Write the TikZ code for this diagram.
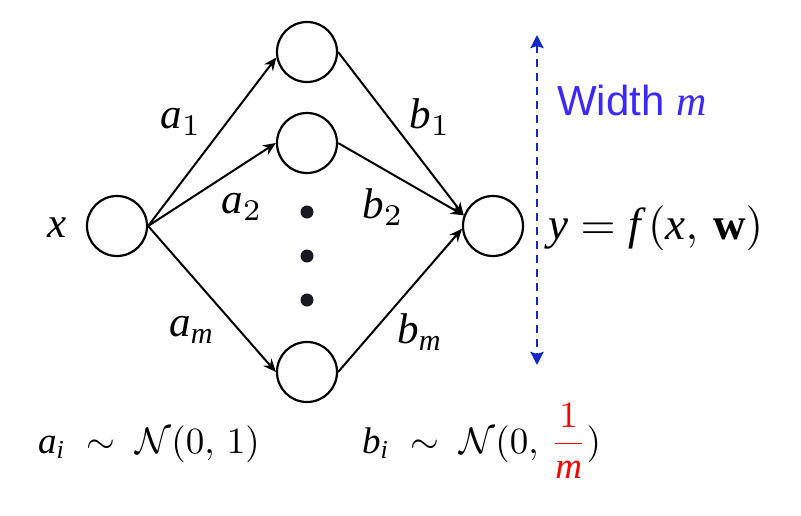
\documentclass[tikz,border=0pt]{standalone}
\usepackage{graphicx}
\usepackage{fontspec}
\setmainfont{Liberation Serif}
\newfontfamily\sansf{Liberation Sans}
\usetikzlibrary{arrows.meta}
\definecolor{widthblue}{RGB}{60,40,250}
\definecolor{dashblue}{RGB}{20,40,200}
\definecolor{dotc}{RGB}{25,25,35}
\newcommand\mathbigx[1]{\scalebox{4.3}{$#1$}}
\newcommand\mathformx[1]{\scalebox{4.5}{$#1$}}
\newcommand\mathdistx[1]{\scalebox{3.7}{$#1$}}
\begin{document}
\begin{tikzpicture}[x=1pt,y=-1pt,
  neuron/.style={circle,draw,line width=2.2pt,minimum size=60pt,inner sep=0pt},
  conn/.style={line width=2pt,-{Stealth[length=13pt,width=11pt]}},
  lbl/.style={font=\fontsize{10}{12}\selectfont,inner sep=0pt},
  dist/.style={font=\fontsize{10}{12}\selectfont,inner sep=0pt},
  bigdot/.style={circle,fill=dotc,minimum size=13pt,inner sep=0pt},
  widthline/.style={dashblue,line width=2.6pt,dash pattern=on 8pt off 6pt,
    {Stealth[length=13pt,width=13pt,inset=2pt]}-{Stealth[length=13pt,width=13pt,inset=2pt]}}]
\useasboundingbox (0,0) rectangle (801,515);
% neurons
\node[neuron] (x) at (117,226) {};
\node[neuron] (h1) at (307,52) {};
\node[neuron] (h2) at (307,143) {};
\node[neuron] (hm) at (307,372) {};
\node[neuron] (y) at (493,226) {};
% dots
\node[bigdot] (d1) at (307,212) {};
\node[bigdot] (d2) at (307,256) {};
\node[bigdot] (d3) at (307,300) {};
% connectors
\draw[conn] (x.east) -- (h1.190);
\draw[conn] (x.east) -- (h2.west);
\draw[conn] (x.east) -- (hm.west);
\draw[conn] (h1.east) -- (y.160);
\draw[conn] (h2.east) -- (y.160);
\draw[conn] (hm.east) -- (y.185);
% edge labels
\node[lbl] (la1) at (181,122) {\mathbigx{\mathit{a}_{1}}};
\node[lbl] (la2) at (242,207) {\mathbigx{\mathit{a}_{2}}};
\node[lbl] (lam) at (192,330) {\mathbigx{\mathit{a}_{\mathit{m}}}};
\node[lbl] (lb1) at (430,117) {\mathbigx{\mathit{b}_{1}}};
\node[lbl] (lb2) at (383,207) {\mathbigx{\mathit{b}_{2}}};
\node[lbl] (lbm) at (420,332) {\mathbigx{\mathit{b}_{\mathit{m}}}};
% input / output labels
\node[lbl] (lx) at (57,228) {\mathbigx{\mathit{x}}};
\node[lbl,anchor=west] (lf) at (548,228) {\mathformx{\mathit{y} = \mathit{f}\,(\mathit{x},\, \mathbf{w})}};
% width arrow
\coordinate (wt) at (537,35);
\coordinate (wb) at (537,365);
\draw[widthline] (wt) -- (wb);
\node[font=\sansf\fontsize{42}{48}\selectfont,text=widthblue,inner sep=0pt] (wm) at (632,100) {Width {\rmfamily\itshape m}};
% distributions
\node[dist,anchor=base west] (da) at (38,453) {\mathdistx{\mathit{a}_{\mathit{i}} \;\sim\; \mathcal{N}(0,\, 1)}};
\node[dist,anchor=base west] (db) at (362,453) {\mathdistx{\mathit{b}_{\mathit{i}} \;\sim\; \mathcal{N}(0,\, {\color{red}\displaystyle\frac{1}{\mathit{m}}})}};
\end{tikzpicture}
\end{document}
